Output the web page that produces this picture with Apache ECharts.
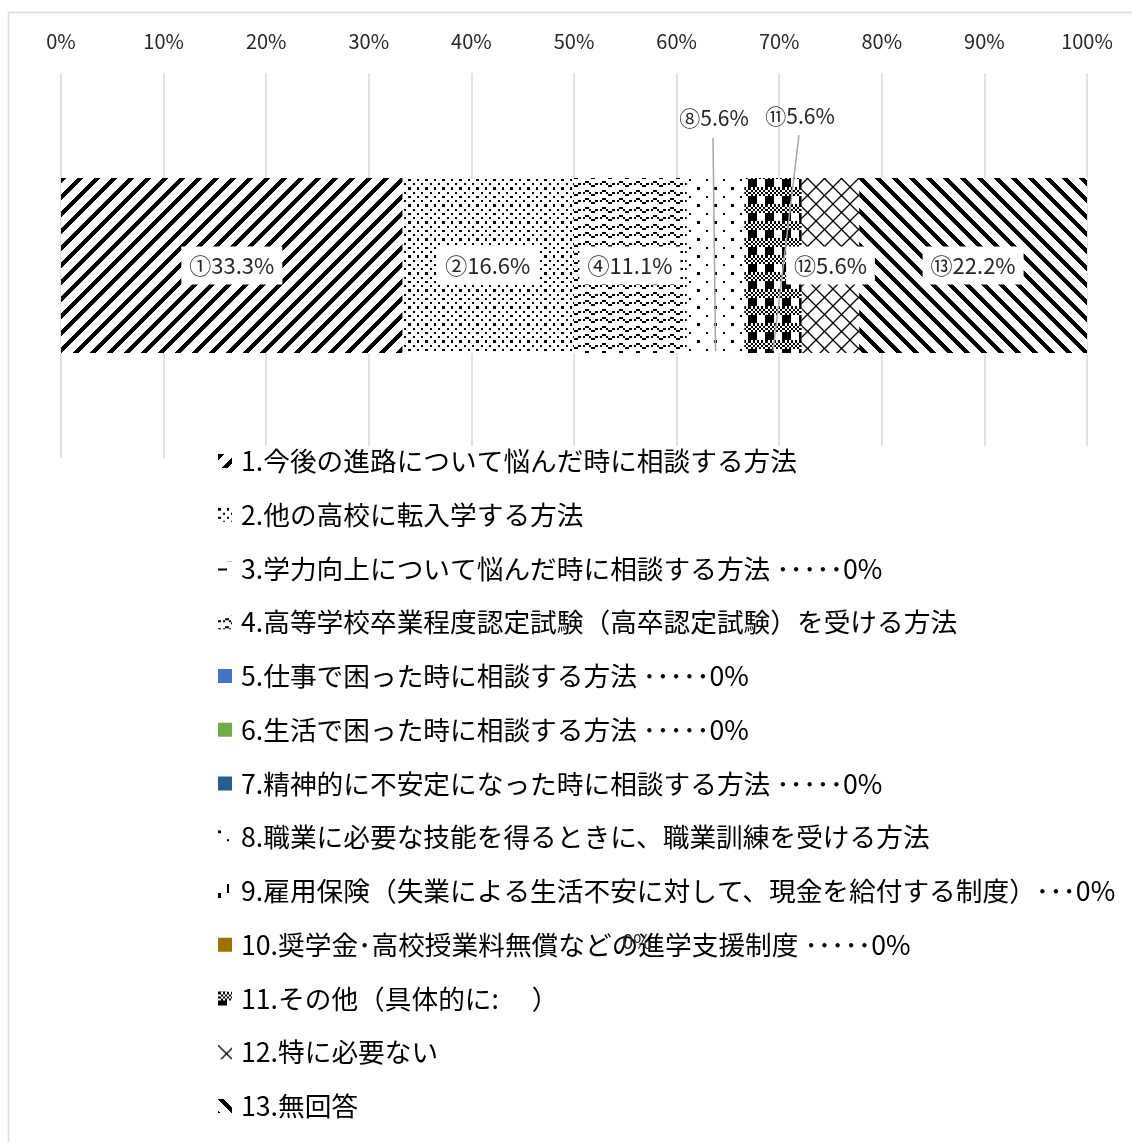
<!DOCTYPE html>
<html>
<head>
<meta charset="utf-8">
<script src="https://cdn.jsdelivr.net/npm/echarts@6/dist/echarts.min.js"></script>
<style>
  html, body { margin: 0; padding: 0; background: #fff; }
  #chart { width: 1132px; height: 1142px; }
</style>
</head>
<body>
<div id="chart"></div>
<script>
// ---- data ----
const categories = ['回答'];
const itemNames = [
  '1.今後の進路について悩んだ時に相談する方法',
  '2.他の高校に転入学する方法',
  '3.学力向上について悩んだ時に相談する方法 ･････0%',
  '4.高等学校卒業程度認定試験（高卒認定試験）を受ける方法',
  '5.仕事で困った時に相談する方法 ･････0%',
  '6.生活で困った時に相談する方法 ･････0%',
  '7.精神的に不安定になった時に相談する方法 ･････0%',
  '8.職業に必要な技能を得るときに、職業訓練を受ける方法',
  '9.雇用保険（失業による生活不安に対して、現金を給付する制度）･･･0%',
  '10.奨学金･高校授業料無償などの進学支援制度 ･････0%',
  '11.その他（具体的に:　 ）',
  '12.特に必要ない',
  '13.無回答'
];
const shares = [33.3, 16.6, 0, 11.1, 0, 0, 0, 5.6, 0, 0, 5.6, 5.6, 22.2];
const markers = ['①', '②', '③', '④', '⑤', '⑥', '⑦', '⑧', '⑨', '⑩', '⑪', '⑫', '⑬'];
const axisMax = 100;
const tickStep = 10;

const FONT = '"Noto Sans CJK JP", "Noto Sans", sans-serif';
const INK = '#262626';

// ---- pattern tiles ----
function tile(w, h, paint) {
  const c = document.createElement('canvas');
  c.width = w; c.height = h;
  const g = c.getContext('2d');
  g.fillStyle = '#fff';
  g.fillRect(0, 0, w, h);
  g.fillStyle = '#000';
  g.strokeStyle = '#000';
  paint(g, w, h);
  return { image: c, repeat: 'repeat' };
}
function pixels(w, h, test) {
  return tile(w, h, g => {
    for (let y = 0; y < h; y++)
      for (let x = 0; x < w; x++)
        if (test(x, y)) g.fillRect(x, y, 1, 1);
  });
}
// 8x8 hatch bitmaps, enlarged to a 17px tile
function hatch(bits, size) {
  const n = size || 17;
  return pixels(n, n, (x, y) => {
    const u = Math.floor(x * 8 / n), v = Math.floor(y * 8 / n);
    return (bits[v] >> (7 - u)) & 1;
  });
}

const upDiagonal = pixels(17, 17, (x, y) => ((x + y) % 17) < 6);
const downDiagonal = pixels(17, 17, (x, y) => ((x - y + 17) % 17) < 6);
const dots20 = hatch([0x88, 0x00, 0x22, 0x00, 0x88, 0x00, 0x22, 0x00]);
const dots05 = hatch([0x80, 0x00, 0x00, 0x00, 0x08, 0x00, 0x00, 0x00]);
const wave = hatch([0x00, 0x18, 0xA4, 0x03, 0x00, 0x18, 0xA4, 0x03]);
const plaid = hatch([0xAA, 0x55, 0xAA, 0x55, 0xF0, 0xF0, 0xF0, 0xF0]);
const dashH = hatch([0x00, 0x00, 0x00, 0xF0, 0x00, 0x00, 0x00, 0x0F]);
const dashV = hatch([0x08, 0x08, 0x08, 0x08, 0x80, 0x80, 0x80, 0x80]);
const diamonds = tile(17, 17, g => {
  g.lineWidth = 1.3;
  g.beginPath();
  for (let k = -1; k <= 1; k++) {
    g.moveTo(k * 17, 0); g.lineTo(k * 17 + 17, 17);
    g.moveTo(k * 17, 17); g.lineTo(k * 17 + 17, 0);
  }
  g.stroke();
});

const fills = [
  upDiagonal, dots20, dashH, wave, '#4472C4', '#70AD47', '#255E91',
  dots05, dashV, '#9C7300', plaid, diamonds, downDiagonal
];

// ---- label placement ----
const insideLabel = {
  show: true, position: 'inside', fontSize: 22, fontFamily: FONT, color: INK,
  backgroundColor: '#fff', padding: [8, 8]
};
const calloutAt = {
  7: { x: 714, y: 118 },
  10: { x: 800, y: 116 }
};

const series = itemNames.map((name, i) => {
  const s = {
    name, type: 'bar', stack: 'total', barWidth: 175,
    data: [shares[i]],
    itemStyle: { color: fills[i] },
    label: { show: false }
  };
  const text = markers[i] + shares[i].toFixed(1) + '%';
  if (calloutAt[i]) {
    s.label = { show: true, fontSize: 21, fontFamily: FONT, color: INK, formatter: text };
    s.labelLayout = { x: calloutAt[i].x, y: calloutAt[i].y, align: 'center', verticalAlign: 'middle' };
  } else if (shares[i] > 0) {
    s.label = Object.assign({ formatter: text }, insideLabel);
  }
  return s;
});

const chart = echarts.init(document.getElementById('chart'), null, { renderer: 'canvas' });

const option = {
  animation: false,
  backgroundColor: '#fff',
  grid: { left: 61, right: 45, top: 73, bottom: 684 },
  xAxis: {
    type: 'value', position: 'top', min: 0, max: axisMax, interval: tickStep,
    axisLabel: { formatter: '{value}%', fontSize: 20, color: INK, fontFamily: FONT, margin: 22 },
    axisLine: { show: false },
    axisTick: { show: false },
    splitLine: { lineStyle: { color: '#d9d9d9', width: 1.5 } }
  },
  yAxis: { type: 'category', data: categories, show: false },
  legend: {
    orient: 'vertical', left: 218, top: 446, padding: 0,
    itemWidth: 14, itemHeight: 14, itemGap: 23.75, icon: 'rect',
    selectedMode: false, backgroundColor: '#fff',
    textStyle: { fontSize: 26.7, lineHeight: 30, color: '#000', fontFamily: FONT, padding: [0, 0, 0, 4] },
    data: itemNames
  },
  series
};
chart.setOption(option);

// leader lines from the callout labels down through their segments
function leader(i, fromX, fromY) {
  const start = shares.slice(0, i).reduce((a, b) => a + b, 0);
  const p = chart.convertToPixel({ gridIndex: 0 }, [start + shares[i] / 2, categories[0]]);
  return {
    type: 'line', z: 100,
    shape: { x1: fromX, y1: fromY, x2: p[0], y2: p[1] + 175 / 2 - 2 },
    style: { stroke: '#a6a6a6', lineWidth: 1.5 }
  };
}
chart.setOption({
  graphic: [
    {
      type: 'rect', z: 100, silent: true,
      shape: { x: 8.5, y: 12.5, width: 1140, height: 1140 },
      style: { fill: 'none', stroke: '#d9d9d9', lineWidth: 1.5 }
    },
    leader(7, 713, 138),
    leader(10, 799, 135),
    // the zero-value label of item 10 that sits over the legend
    {
      type: 'text', z: 100, x: 637, y: 941,
      style: {
        text: shares[9] + '%', fill: INK, font: '20px ' + FONT,
        align: 'center', verticalAlign: 'middle'
      }
    }
  ]
});
</script>
</body>
</html>
